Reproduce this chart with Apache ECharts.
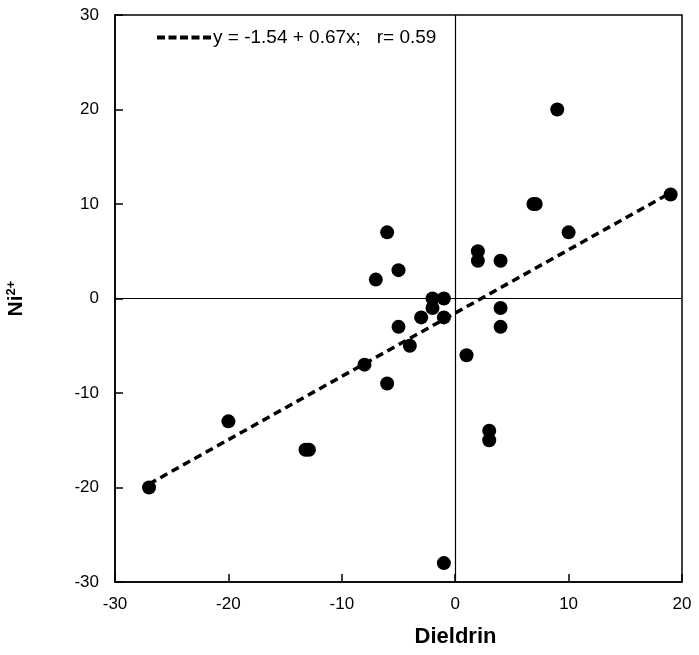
<!DOCTYPE html>
<html><head><meta charset="utf-8">
<script src="https://cdn.jsdelivr.net/npm/echarts@6/dist/echarts.min.js"></script>
<style>html,body{margin:0;padding:0;background:#fff}#c{width:699px;height:655px}</style>
</head><body><div id="c"></div>
<script>
var dieldrin = [-6, -5, -7, -2, -1, 9, 19, 6.9, 7.1, 10, 2, 2, 4, -2, -3, -1, -5, -4, -8, -6, -20, -13.2, -12.9, -27, -1, 4, 4, 1, 3, 3];
var nickel   = [7, 3, 2, 0, 0, 20, 11, 10, 10, 7, 5, 4, 4, -1, -2, -2, -3, -5, -7, -9, -13, -16, -16, -20, -28, -1, -3, -6, -14, -15];
var fitX = [-27, 19];
var fitY = [-19.63, 11.19];
var legendText = 'y = -1.54 + 0.67x;   r= 0.59';
var xTicks = [-30, -20, -10, 0, 10, 20];
var yTicks = [-30, -20, -10, 0, 10, 20, 30];

var pts = dieldrin.map(function(x, i){ return [x, nickel[i]]; });
var fit = fitX.map(function(x, i){ return [x, fitY[i]]; });
var font = 'Liberation Sans, Arial, Helvetica, sans-serif';

var chart = echarts.init(document.getElementById('c'));
chart.setOption({
  animation: false,
  backgroundColor: '#fff',
  grid: {left: 115, right: 17, top: 15, bottom: 73, show: true, borderColor: '#000', borderWidth: 1.5,
         containLabel: false, outerBoundsMode: 'none'},
  legend: {
    data: [legendText], left: 150, top: 23, itemWidth: 56, itemHeight: 14, itemGap: 0,
    itemStyle: {opacity: 0},
    lineStyle: {color: '#000', type: [8, 3.5], width: 4},
    textStyle: {fontFamily: font, fontSize: 19, color: '#000', padding: [0,0,0,-5]}
  },
  xAxis: {
    type: 'value', min: -30, max: 20, interval: 10,
    name: 'Dieldrin', nameLocation: 'middle', nameGap: 44,
    nameTextStyle: {fontFamily: font, fontSize: 22, fontWeight: 'bold', color: '#000', padding: [0,0,0,114]},
    axisLine: {onZero: false, lineStyle: {color: '#000', width: 1.5}},
    axisTick: {inside: true, length: 8, lineStyle: {color: '#000', width: 1.5}},
    axisLabel: {fontFamily: font, fontSize: 17, color: '#000', margin: 14},
    splitLine: {show: false}
  },
  yAxis: {
    type: 'value', min: -30, max: 30, interval: 10,
    name: '{b|Ni}{s|2+}', nameLocation: 'middle', nameGap: 88, nameRotate: 90,
    nameTextStyle: {rich: {
      b: {fontFamily: font, fontSize: 21, fontWeight: 'bold', color: '#000'},
      s: {fontFamily: font, fontSize: 13, fontWeight: 'bold', color: '#000', verticalAlign: 'top', padding: [0,0,9,0]}
    }},
    axisLine: {onZero: false, lineStyle: {color: '#000', width: 1.5}},
    axisTick: {inside: true, length: 8, lineStyle: {color: '#000', width: 1.5}},
    axisLabel: {fontFamily: font, fontSize: 17, color: '#000', margin: 16},
    splitLine: {show: false}
  },
  series: [
    {
      type: 'scatter', data: pts, symbolSize: 14, itemStyle: {color: '#000', opacity: 1}, z: 3,
      markLine: {
        silent: true, symbol: 'none', label: {show: false},
        lineStyle: {color: '#000', type: 'solid', width: 1.2},
        data: [{xAxis: 0}, {yAxis: 0}]
      }
    },
    {
      name: legendText, type: 'line', data: fit, showSymbol: false, symbol: 'none',
      itemStyle: {color: '#000'},
      lineStyle: {color: '#000', type: [8, 5], width: 3.5}, z: 4
    }
  ]
});
</script></body></html>
